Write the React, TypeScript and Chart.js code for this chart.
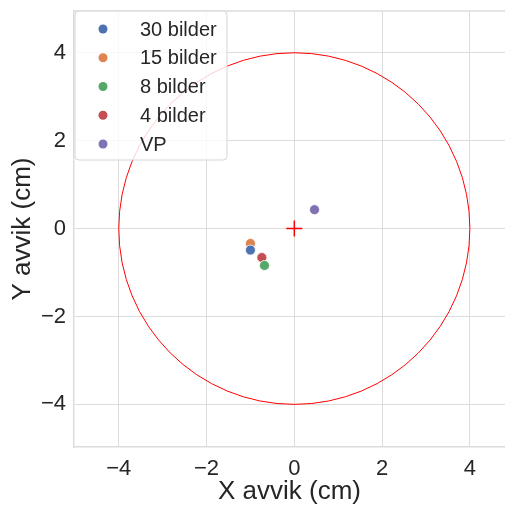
import React, { useEffect, useRef } from "react";
import { Chart, registerables } from "chart.js";

Chart.register(...registerables);

const seriesLabels = ["30 bilder", "15 bilder", "8 bilder", "4 bilder", "VP"];
const seriesColors = ["#4c72b0", "#dd8452", "#55a868", "#c44e52", "#8172b3"];
const seriesX = [-1.0, -1.0, -0.68, -0.74, 0.46];
const seriesY = [-0.49, -0.34, -0.84, -0.66, 0.43];
const xTicks = [-4, -2, 0, 2, 4];
const yTicks = [-4, -2, 0, 2, 4];
const circleRadius = 4;
const centerPoint = { x: 0, y: 0 };

const FONT = "'Liberation Sans', Arial, sans-serif";
const TEXT = "#262626";
const GRID = "#dcdcdc";

const overlayPlugin = {
  id: "overlay",
  beforeDatasetsDraw(chart: any) {
    const { ctx, scales, chartArea } = chart;
    const xs = scales.x, ys = scales.y;
    const cx = xs.getPixelForValue(centerPoint.x);
    const cy = ys.getPixelForValue(centerPoint.y);
    const rx = Math.abs(xs.getPixelForValue(circleRadius) - cx);
    const ry = Math.abs(ys.getPixelForValue(circleRadius) - cy);
    ctx.save();
    ctx.strokeStyle = GRID;
    ctx.lineWidth = 1.5;
    ctx.beginPath();
    ctx.moveTo(chartArea.left, chartArea.top);
    ctx.lineTo(chartArea.right, chartArea.top);
    ctx.stroke();
    ctx.beginPath();
    ctx.rect(chartArea.left, chartArea.top, chartArea.right - chartArea.left, chartArea.bottom - chartArea.top);
    ctx.clip();
    ctx.beginPath();
    ctx.ellipse(cx, cy, rx, ry, 0, 0, Math.PI * 2);
    ctx.strokeStyle = "#ff0000";
    ctx.lineWidth = 1;
    ctx.stroke();
    ctx.restore();
  },
  afterDraw(chart: any) {
    const { ctx, chartArea } = chart;
    const x0 = chartArea.left + 1;
    const y0 = chartArea.top;
    const w = 152;
    const h = 149;
    ctx.save();
    ctx.beginPath();
    const r = 4;
    ctx.moveTo(x0 + r, y0);
    ctx.lineTo(x0 + w - r, y0);
    ctx.quadraticCurveTo(x0 + w, y0, x0 + w, y0 + r);
    ctx.lineTo(x0 + w, y0 + h - r);
    ctx.quadraticCurveTo(x0 + w, y0 + h, x0 + w - r, y0 + h);
    ctx.lineTo(x0 + r, y0 + h);
    ctx.quadraticCurveTo(x0, y0 + h, x0, y0 + h - r);
    ctx.lineTo(x0, y0 + r);
    ctx.quadraticCurveTo(x0, y0, x0 + r, y0);
    ctx.closePath();
    ctx.fillStyle = "rgba(255,255,255,0.8)";
    ctx.fill();
    ctx.strokeStyle = "#d6d6d6";
    ctx.lineWidth = 1;
    ctx.stroke();
    ctx.font = `20px ${FONT}`;
    ctx.textBaseline = "middle";
    seriesLabels.forEach((lab, i) => {
      const yy = y0 + 18 + i * 28.75;
      ctx.beginPath();
      ctx.arc(x0 + 28, yy, 4.5, 0, Math.PI * 2);
      ctx.fillStyle = seriesColors[i];
      ctx.fill();
      ctx.fillStyle = TEXT;
      ctx.fillText(lab, x0 + 65, yy + 1);
    });
    ctx.restore();
  },
};

const fmt = (v: any) => (Number(v) < 0 ? "\u2212" + Math.abs(Number(v)) : String(v));

export default function App() {
  const ref = useRef<HTMLCanvasElement | null>(null);
  useEffect(() => {
    if (!ref.current) return;
    const datasets: any[] = seriesLabels.map((lab, i) => ({
      label: lab,
      data: [{ x: seriesX[i], y: seriesY[i] }],
      backgroundColor: seriesColors[i],
      borderColor: "#ffffff",
      borderWidth: 0.8,
      pointRadius: 5,
      showLine: false,
    }));
    datasets.push({
      label: "center",
      data: [centerPoint],
      pointStyle: "cross",
      pointRadius: 8,
      borderColor: "#ff0000",
      borderWidth: 1.5,
      backgroundColor: "#ff0000",
      showLine: false,
    });
    const chart = new Chart(ref.current, {
      type: "scatter",
      data: { datasets },
      options: {
        animation: false,
        responsive: false,
        maintainAspectRatio: false,
        layout: { autoPadding: false, padding: { top: 11, right: 0, left: 0, bottom: 0 } },
        plugins: { legend: { display: false }, tooltip: { enabled: false } },
        scales: {
          x: {
            type: "linear",
            min: -5.02,
            max: 4.8,
            afterBuildTicks: (s: any) => { s.ticks = xTicks.map((v) => ({ value: v })); },
            afterFit: (s: any) => { s.height = 60; s.paddingLeft = 0; s.paddingRight = 0; },
            grid: { color: GRID, lineWidth: 1, drawTicks: false },
            border: { display: true, color: GRID, width: 1.5 },
            ticks: { color: TEXT, font: { size: 22, family: FONT }, padding: 9, maxRotation: 0, callback: fmt },
            title: { display: true, text: "X avvik (cm)", color: TEXT, font: { size: 26, family: FONT }, padding: { top: 0, bottom: 0 } },
          },
          y: {
            type: "linear",
            min: -4.97,
            max: 4.95,
            afterBuildTicks: (s: any) => { s.ticks = yTicks.map((v) => ({ value: v })); },
            afterFit: (s: any) => { s.width = 74; s.paddingTop = 0; s.paddingBottom = 0; },
            grid: { color: GRID, lineWidth: 1, drawTicks: false },
            border: { display: true, color: GRID, width: 1.5 },
            ticks: { color: TEXT, font: { size: 22, family: FONT }, padding: 8, callback: fmt },
            title: { display: true, text: "Y avvik (cm)", color: TEXT, font: { size: 26, family: FONT }, padding: { top: 7, bottom: 0 } },
          },
        },
      },
      plugins: [overlayPlugin],
    });
    return () => chart.destroy();
  }, []);
  return (
    <div style={{ position: "fixed", left: 0, top: 0, width: 505, height: 507, background: "#fff" }}>
      <canvas ref={ref} width={505} height={507} style={{ width: 505, height: 507 }} />
    </div>
  );
}
